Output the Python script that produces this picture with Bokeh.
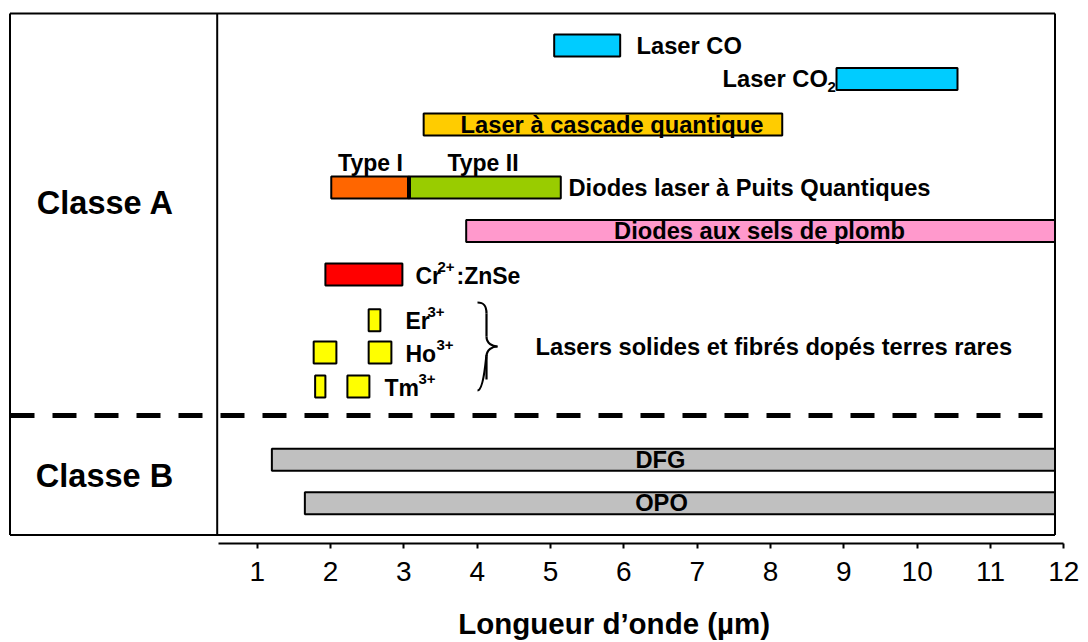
from bokeh.plotting import figure
from bokeh.models import Range1d, LinearAxis, FixedTicker, ColumnDataSource
from bokeh.core.properties import value
from bokeh.embed import file_html
from bokeh.resources import INLINE

FONT = "Liberation Sans"

# ---------------- data (wavelength ranges, µm) ----------------
bar_names = ["Laser CO", "Laser CO2", "Laser à cascade quantique", "Puits Quantiques Type I",
             "Puits Quantiques Type II", "Diodes aux sels de plomb", "Cr2+:ZnSe",
             "Er3+", "Ho3+ a", "Ho3+ b", "Tm3+ a", "Tm3+ b", "DFG", "OPO"]
lambda_min = [5.05, 8.90, 3.27, 2.01, 3.07, 3.85, 1.93, 2.52, 1.77, 2.52, 1.79, 2.23, 1.20, 1.65]
lambda_max = [5.95, 10.55, 8.16, 3.07, 5.14, 11.88, 2.98, 2.68, 2.08, 2.83, 1.93, 2.53, 11.88, 11.88]
bar_colors = ["#00CCFF", "#00CCFF", "#FFCC00", "#FF6600", "#99CC00", "#FF99CC", "#FF0000",
              "#FFFF00", "#FFFF00", "#FFFF00", "#FFFF00", "#FFFF00", "#C0C0C0", "#C0C0C0"]
tick_values = [1, 2, 3, 4, 5, 6, 7, 8, 9, 10, 11, 12]
axis_title = "Longueur d’onde (µm)"

# ---------------- layout (vertical row centres, in page pixels) ----------------
row_y = [45, 78.5, 124, 187, 187, 230.5, 274, 319.7, 352, 352, 386, 386, 459.2, 502.8]
BAR_H = 22
TITLE_SHIFT = 17  # non-breaking spaces that move the centred axis title to the right


def px2x(px):
    return 1 + (px - 256.7) / 73.33


p = figure(width=1088, height=642,
           x_range=Range1d(px2x(8), px2x(1080)), y_range=Range1d(543, 8),
           output_backend="svg", toolbar_location=None,
           x_axis_location=None, y_axis_location=None,
           min_border_left=8, min_border_right=8, min_border_top=8, min_border_bottom=99)
p.grid.visible = False
p.outline_line_color = None
p.background_fill_color = "white"
p.border_fill_color = "white"

# outer frame of the diagram
bx0, bx1, div = px2x(9.5), px2x(1054.5), px2x(216.7)
by0, by1 = 13, 534.5
p.segment(x0=[bx0, bx0, bx0, bx1, div], y0=[by0, by1, by0, by0, by0],
          x1=[bx1, bx1, bx0, bx1, div], y1=[by0, by1, by1, by1, by1],
          line_color="black", line_width=2)

# class separator
p.line(x=[px2x(10), px2x(1042)], y=[415, 415], line_color="black", line_width=5, line_dash="24 18")

# bars
src = ColumnDataSource(dict(
    left=lambda_min, right=lambda_max,
    top=[y - BAR_H / 2 for y in row_y], bottom=[y + BAR_H / 2 for y in row_y],
    color=bar_colors, name=bar_names))
p.quad(left="left", right="right", top="top", bottom="bottom", source=src,
       fill_color="color", line_color="black", line_width=2)
# Type I / Type II junction
p.segment(x0=[lambda_max[3]], x1=[lambda_max[3]], y0=[row_y[3] - BAR_H / 2], y1=[row_y[3] + BAR_H / 2],
          line_color="black", line_width=4)

# brace
bz = dict(
    x0=[477, 486, 497, 486], y0=[302, 336, 346, 356],
    x1=[486, 497, 486, 477], y1=[313, 346, 356, 390],
    cx0=[484, 486, 492, 486], cy0=[302, 343, 346, 349],
    cx1=[486, 492, 486, 484], cy1=[306, 346, 349, 390])
p.bezier(x0=[px2x(v) for v in bz["x0"]], y0=bz["y0"], x1=[px2x(v) for v in bz["x1"]], y1=bz["y1"],
         cx0=[px2x(v) for v in bz["cx0"]], cy0=bz["cy0"], cx1=[px2x(v) for v in bz["cx1"]], cy1=bz["cy1"],
         line_color="black", line_width=2.2)
p.segment(x0=[px2x(486), px2x(486)], y0=[313, 356], x1=[px2x(486), px2x(486)], y1=[336, 379],
          line_color="black", line_width=2.2)

# texts: (text, px_x, y, size, align)
texts = [
    ("Laser CO", 636, 45, "23.7px", "left"),
    ("Laser CO", 722, 78.5, "23.7px", "left"),
    ("2", 827, 86, "15px", "left"),
    ("Laser à cascade quantique", 611.5, 124, "23.7px", "center"),
    ("Type I", 370, 162, "23px", "center"),
    ("Type II", 482.5, 162, "23px", "center"),
    ("Diodes laser à Puits Quantiques", 568, 187, "23.7px", "left"),
    ("Diodes aux sels de plomb", 759, 230.5, "23.7px", "center"),
    ("Cr", 415, 275, "23px", "left"),
    ("2+", 437, 266, "15px", "left"),
    (":ZnSe", 456, 275, "23px", "left"),
    ("Er", 405, 320, "23px", "left"),
    ("3+", 427, 311, "15px", "left"),
    ("Ho", 405, 353, "23px", "left"),
    ("3+", 436, 344, "15px", "left"),
    ("Tm", 384, 387, "23px", "left"),
    ("3+", 418, 378, "15px", "left"),
    ("Lasers solides et fibrés dopés terres rares", 535, 346, "23.7px", "left"),
    ("DFG", 660, 459.2, "23.7px", "center"),
    ("OPO", 661, 502.8, "23.7px", "center"),
    ("Classe A", 105, 202, "32.5px", "center"),
    ("Classe B", 104, 475, "32.5px", "center"),
]
for t, px, y, fs, al in texts:
    p.text(x=[px2x(px)], y=[y], text=[t], text_font=value(FONT), text_font_style="bold",
           text_font_size=fs, text_align=al, text_baseline="middle", text_color="black")

# x axis
ax = LinearAxis(ticker=FixedTicker(ticks=tick_values), bounds=(0.476, 12),
                major_label_text_font=FONT, major_label_text_font_size="28px",
                major_label_text_color="black", major_label_standoff=13,
                major_tick_out=5, major_tick_in=0, minor_tick_out=0, minor_tick_in=0,
                axis_line_width=2, major_tick_line_width=2,
                axis_line_color="black", major_tick_line_color="black",
                axis_label="\u00a0" * TITLE_SHIFT + axis_title, axis_label_text_font=FONT,
                axis_label_text_font_style="bold", axis_label_text_font_size="29.5px",
                axis_label_text_color="black", axis_label_standoff=23)
p.add_layout(ax, "below")

open("out.html", "w").write(file_html(p, INLINE))
